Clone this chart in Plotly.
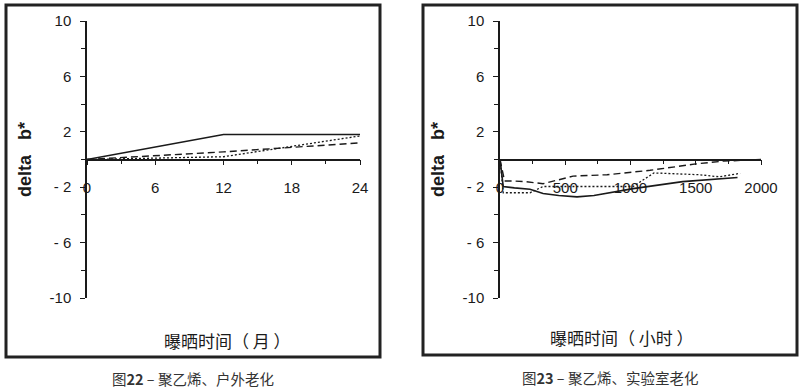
import plotly.graph_objects as go

# ---- data ----
months = [0, 12, 24]
out_solid = [0, 1.8, 1.8]
out_dashed = [0, 0.55, 1.2]
out_dotted = [0, 0.2, 1.7]

lab_solid_h = [0, 25, 110, 230, 330, 450, 590, 720, 1020, 1400, 1820]
lab_solid = [0, -1.95, -2.05, -2.15, -2.45, -2.6, -2.7, -2.6, -2.1, -1.6, -1.3]
lab_dashed_h = [0, 35, 100, 200, 330, 450, 560, 820, 1150, 1500, 1710, 2000]
lab_dashed = [0, -1.55, -1.55, -1.6, -1.75, -1.45, -1.2, -1.1, -0.78, -0.32, -0.12, 0.0]
lab_dotted_h = [0, 25, 230, 330, 1020, 1180, 1530, 1680, 1840]
lab_dotted = [0, -2.4, -2.4, -1.95, -1.95, -0.97, -1.1, -1.25, -1.0]

y_tickvals = [10, 6, 2, -2, -6, -10]
y_ticktext = ["10", "6", "2", "- 2", "- 6", "-10"]
x1_tickvals = [0, 6, 12, 18, 24]
x2_tickvals = [0, 500, 1000, 1500, 2000]

ytitle = "delta   b*"
xtitle1 = "曝晒时间（ 月 ）"
xtitle2 = "曝晒时间（ 小时 ）"
cap1 = "图<b>22</b> – 聚乙烯、户外老化"
cap2 = "图<b>23</b> – 聚乙烯、实验室老化"

W, H = 800, 388
def px(x): return x / W
def py(y): return 1 - y / H

ink = "#1a1a1a"
tickfont = dict(family="Liberation Sans, Arial", size=15, color=ink)

fig = go.Figure()
styles = [("solid", 1.6), ("7px,4px", 1.4), ("2px,2px", 1.3)]
for (xs, ys), (d, w) in zip([(months, out_solid), (months, out_dashed), (months, out_dotted)], styles):
    fig.add_trace(go.Scatter(x=xs, y=ys, mode="lines", line=dict(color=ink, width=w, dash=d),
                             xaxis="x", yaxis="y", showlegend=False))
for (xs, ys), (d, w) in zip([(lab_solid_h, lab_solid), (lab_dashed_h, lab_dashed), (lab_dotted_h, lab_dotted)], styles):
    fig.add_trace(go.Scatter(x=xs, y=ys, mode="lines", line=dict(color=ink, width=w, dash=d),
                             xaxis="x2", yaxis="y2", showlegend=False))

ydom = [py(298), py(21)]
xpos = (ydom[0] + ydom[1]) / 2

def yax(anchor):
    return dict(domain=ydom, range=[-10, 10], anchor=anchor, showline=True, linecolor=ink, linewidth=1.5,
                showgrid=False, zeroline=False, ticks="outside", ticklen=5, tickwidth=1.2, tickcolor=ink,
                tickmode="array", tickvals=y_tickvals, ticktext=y_ticktext, tickfont=tickfont,
                ticklabelstandoff=6, automargin=False,
                minor=dict(tickmode="linear", tick0=0, dtick=2, ticks="outside", ticklen=4, tickcolor=ink, showgrid=False))

def xax(dom, rng, tv, dt):
    return dict(domain=dom, range=rng, anchor="free", position=xpos,
                showline=True, linecolor=ink, linewidth=1.5, showgrid=False, zeroline=False,
                ticks="outside", ticklen=5, tickwidth=1.2, tickcolor=ink,
                tickmode="array", tickvals=tv, ticktext=[str(v) for v in tv], tickfont=tickfont,
                ticklabelstandoff=10, automargin=False,
                minor=dict(tickmode="linear", tick0=0, dtick=dt, ticks="outside", ticklen=4, tickcolor=ink, showgrid=False))

fig.update_layout(
    width=W, height=H, margin=dict(l=0, r=0, t=0, b=0, autoexpand=False),
    paper_bgcolor="white", plot_bgcolor="rgba(0,0,0,0)",
    xaxis=xax([px(87), px(360)], [0, 24], x1_tickvals, 3),
    yaxis=yax("x"),
    xaxis2=xax([px(500), px(761)], [0, 2000], x2_tickvals, 250),
    yaxis2=yax("x2"),
)

# frames
fig.add_shape(type="rect", xref="paper", yref="paper", x0=px(6), x1=px(380), y0=py(357), y1=py(5),
              line=dict(color="#222", width=3))
fig.add_shape(type="rect", xref="paper", yref="paper", x0=px(423), x1=px(797), y0=py(355), y1=py(5),
              line=dict(color="#222", width=3))

def ann(x, y, text, font, angle=0):
    fig.add_annotation(xref="paper", yref="paper", x=px(x), y=py(y), text=text, textangle=angle,
                       showarrow=False, xanchor="center", yanchor="middle", font=font)

for x in (25, 438):
    ann(x, 160, "<b>" + ytitle + "</b>", dict(family="Liberation Sans, Arial", size=18, color=ink), -90)
ann(227, 340, xtitle1, dict(family="Noto Sans CJK SC", size=17, color=ink))
ann(622, 337, xtitle2, dict(family="Noto Sans CJK SC", size=17, color=ink))
ann(193, 378, cap1, dict(family="Noto Sans CJK SC", size=14.5, color="#333"))
ann(610, 377, cap2, dict(family="Noto Sans CJK SC", size=14.5, color="#333"))

fig.write_html("out.html", config={"displayModeBar": False},
               post_script="document.body.style.margin='0';document.body.style.overflow='hidden';")
